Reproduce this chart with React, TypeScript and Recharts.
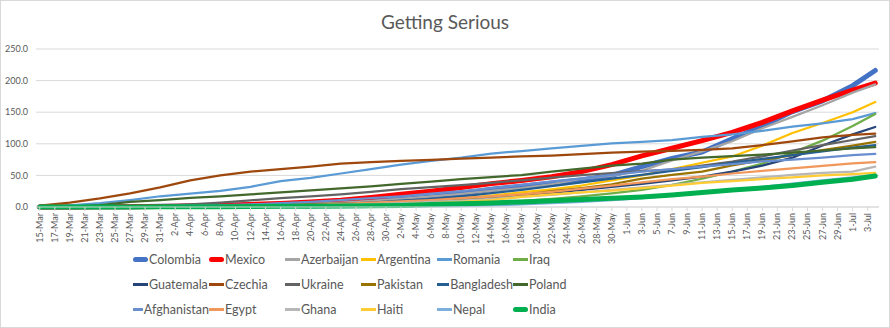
import { LineChart, Line, XAxis, YAxis, CartesianGrid, Legend } from "recharts";

// day index (0 = 15-Mar) of each sampled point
const sampleDays = [0, 4, 8, 12, 16, 20, 24, 28, 32, 36, 40, 44, 48, 52, 56, 60, 64, 68, 72, 76, 80, 84, 88, 92, 96, 100, 104, 108, 111];

const colombia = [0, 0, 0.2, 0.5, 1, 1.5, 2.5, 3.5, 4.5, 5.5, 7, 9, 12, 16, 21, 28, 33, 38, 43, 50, 64, 77, 87, 108, 128, 151, 168, 192, 216];
const mexico = [0, 0, 0.2, 0.4, 0.8, 1.5, 2.5, 4, 5.6, 8, 10.7, 15, 20, 25, 31, 37, 42, 48, 56, 67, 81, 93, 105, 118, 134, 152, 169, 185, 196];
const azerbaijan = [0, 0, 0, 0.2, 0.5, 1, 1.5, 2.5, 3.5, 5, 7, 9.6, 12.8, 16.8, 20.8, 25.5, 30, 36, 44.7, 49.5, 57.5, 73.5, 88, 104, 124.6, 142.6, 161, 181, 194];
const argentina = [0, 0, 0.1, 0.3, 0.6, 1, 1.5, 2, 2.5, 3.5, 4.5, 6, 8, 11, 14, 18, 23, 28, 34, 42, 50, 60, 70, 80, 97, 117, 133, 150, 166];
const romania = [0, 2.5, 6, 11, 17, 21, 25.5, 32, 41, 46, 53, 60, 67, 73, 78, 84.6, 88.6, 92.6, 96.6, 100.6, 103, 106, 111, 115, 120.6, 127, 132.5, 139, 148.5];
const iraq = [0, 0, 0.2, 0.4, 0.6, 0.9, 1.2, 1.5, 1.8, 2.2, 2.5, 3, 3.5, 4.5, 5.5, 7, 9.6, 12.8, 16.8, 21.6, 27, 35, 44.7, 56, 68.7, 86, 105, 128, 147];
const guatemala = [0, 0, 0, 0.1, 0.3, 0.5, 0.7, 1, 1.5, 2.2, 3, 4, 5.6, 8, 10.4, 13.6, 17.6, 22.4, 27, 32, 36.7, 42.3, 48, 56, 65.5, 78, 97.4, 115, 126.6];
const czechia = [2, 7, 13.6, 21.6, 31, 42, 50, 56, 60, 64, 68.5, 71, 73, 74.5, 76.7, 78.3, 80, 81.4, 83.5, 86, 87.5, 89, 90.5, 92.6, 98, 104, 110, 114, 116];
const ukraine = [0, 0, 0.3, 0.7, 1.5, 4, 7, 10.5, 14, 16.8, 20, 24, 28.3, 31.5, 34.7, 38.3, 42.3, 46.3, 50.3, 53.8, 56.7, 59, 65.5, 72, 80, 89.4, 98, 106, 112];
const pakistan = [0, 0, 0.3, 0.6, 1, 1.5, 2, 2.8, 3.5, 4.5, 5.5, 6.5, 8, 10, 13, 16, 19, 25, 30, 36, 45, 51, 56, 66, 74, 82, 90, 97, 103];
const bangladesh = [0, 0, 0, 0.1, 0.3, 0.5, 1, 1.5, 2.5, 3.5, 5, 7, 10, 13, 17, 22, 27, 33, 39, 45, 51, 57, 63, 70, 76, 82, 88, 94, 98];
const poland = [0, 0.5, 3, 8, 11, 14.4, 16.8, 20, 23, 26.4, 29.5, 32.7, 36.7, 40, 44, 47.4, 50.6, 56, 60.7, 65.5, 68.7, 75, 78, 80.6, 83, 86, 89.4, 92.6, 94.7];
const afghanistan = [0, 0, 0.2, 0.5, 1, 2, 3, 4, 6, 8, 11, 14, 17, 21, 25, 30, 35, 40, 45, 51, 56, 60, 64, 68, 72, 75, 78, 82, 84];
const egypt = [0, 0, 0, 0.1, 0.3, 0.6, 1, 1.5, 2.5, 3.5, 5, 7, 9, 11, 14, 17, 20, 24, 29, 34, 39, 44, 48, 53, 57, 61, 65, 69, 71];
const ghana = [0, 0, 0, 0, 0, 0.3, 0.6, 1, 1.5, 2.5, 3.5, 4.5, 6, 8, 10, 13, 16, 19, 23, 27, 31, 35, 39, 43, 47, 51, 54, 56, 64];
const haiti = [0, 0, 0, 0, 0, 0, 0.3, 0.6, 1, 1.5, 2, 3, 4, 6, 8, 11, 16, 20, 23, 26, 30, 34, 38, 41, 44, 47, 50, 52, 54];
const nepal = [0, 0, 0, 0, 0, 0, 0, 0, 0, 0, 0, 0.2, 0.5, 1, 1.5, 2.5, 4, 6, 8, 11, 14, 18, 22, 27, 32, 37, 42, 47, 51];
const india = [0, 0, 0, 0.1, 0.2, 0.3, 0.5, 0.7, 1, 1.2, 1.6, 2, 2.5, 4, 5, 6.5, 8, 10, 12, 14, 16, 19, 23, 27, 30, 34, 39, 44, 49];

const yTicks = [0, 50, 100, 150, 200, 250];

const monthNames = ["Jan", "Feb", "Mar", "Apr", "May", "Jun", "Jul"];
// one category per day, 15-Mar .. 4-Jul
const dayLabels: string[] = [];
for (let i = 0; i < 112; i++) {
  const d = new Date(2020, 2, 15 + i);
  dayLabels.push(`${d.getDate()}-${monthNames[d.getMonth()]}`);
}
const xTicks = dayLabels.map((_, i) => i).filter((i) => i % 2 === 0);

const series = [
  { name: "Colombia", values: colombia, color: "#4472C4", width: 5 },
  { name: "Mexico", values: mexico, color: "#FF0000", width: 5 },
  { name: "Azerbaijan", values: azerbaijan, color: "#A5A5A5", width: 2.25 },
  { name: "Argentina", values: argentina, color: "#FFC000", width: 2.25 },
  { name: "Romania", values: romania, color: "#5B9BD5", width: 2.25 },
  { name: "Iraq", values: iraq, color: "#70AD47", width: 2.25 },
  { name: "Guatemala", values: guatemala, color: "#264478", width: 2.25 },
  { name: "Czechia", values: czechia, color: "#9E480E", width: 2.25 },
  { name: "Ukraine", values: ukraine, color: "#636363", width: 2.25 },
  { name: "Pakistan", values: pakistan, color: "#997300", width: 2.25 },
  { name: "Bangladesh", values: bangladesh, color: "#255E91", width: 2.25 },
  { name: "Poland", values: poland, color: "#43682B", width: 2.25 },
  { name: "Afghanistan", values: afghanistan, color: "#698ED0", width: 2.25 },
  { name: "Egypt", values: egypt, color: "#F1975A", width: 2.25 },
  { name: "Ghana", values: ghana, color: "#B7B7B7", width: 2.25 },
  { name: "Haiti", values: haiti, color: "#FFCD33", width: 2.25 },
  { name: "Nepal", values: nepal, color: "#7CAFDD", width: 2.25 },
  { name: "India", values: india, color: "#00B050", width: 5 },
];

const data = sampleDays.map((day, i) => {
  const row: Record<string, number> = { day };
  series.forEach((s) => {
    row[s.name] = s.values[i];
  });
  return row;
});

const FONT = "Lato, 'Open Sans', sans-serif";
const TEXT = "#595959";

const DateTick = (props: any) => {
  const { x, y, payload } = props;
  return (
    <text
      x={x}
      y={y}
      dy={3}
      transform={`rotate(-90, ${x}, ${y})`}
      textAnchor="end"
      fontSize={9}
      fontFamily={FONT}
      fill={TEXT}
    >
      {dayLabels[payload.value]}
    </text>
  );
};

const renderLegend = () => (
  <div
    style={{
      display: "grid",
      gridTemplateColumns: "repeat(6, 76px)",
      gridAutoRows: "25px",
      paddingLeft: 132,
      fontFamily: FONT,
      fontSize: 12.5,
      color: TEXT,
    }}
  >
    {series.map((s) => (
      <div key={s.name} style={{ display: "flex", alignItems: "center", whiteSpace: "nowrap" }}>
        <span
          style={{
            display: "inline-block",
            width: 15,
            height: s.width > 3 ? 5 : 2.5,
            borderRadius: s.width > 3 ? 3 : 0,
            background: s.color,
            marginRight: 1,
          }}
        />
        {s.name}
      </div>
    ))}
  </div>
);

export default function App() {
  return (
    <div
      style={{
        position: "absolute",
        left: 0,
        top: 0,
        width: 888,
        height: 326,
        border: "1px solid #D9D9D9",
        background: "#fff",
      }}
    >
      <div
        style={{
          position: "absolute",
          top: 9,
          left: 0,
          width: 888,
          textAlign: "center",
          fontFamily: FONT,
          fontSize: 19,
          color: TEXT,
        }}
      >
        Getting Serious
      </div>
      <LineChart width={888} height={326} data={data} margin={{ top: 48, right: 10, left: 0, bottom: 80 }}>
        <CartesianGrid vertical={false} stroke="#D9D9D9" />
        <XAxis
          dataKey="day"
          type="number"
          domain={[-0.5, 111.5]}
          ticks={xTicks}
          interval={0}
          tick={<DateTick />}
          height={40}
          axisLine={{ stroke: "#D9D9D9" }}
          tickLine={{ stroke: "#D9D9D9" }}
          tickSize={4}
        />
        <YAxis
          domain={[0, 250]}
          ticks={yTicks}
          width={35}
          axisLine={false}
          tickLine={false}
          tickFormatter={(v: number) => v.toFixed(1)}
          tick={{ fontSize: 9, fill: TEXT, fontFamily: FONT }}
        />
        <Legend
          content={renderLegend}
          layout="horizontal"
          verticalAlign="middle"
          align="center"
          wrapperStyle={{ top: 246, left: 0, width: 888 }}
        />
        {series.map((s) => (
          <Line
            key={s.name}
            dataKey={s.name}
            type="linear"
            stroke={s.color}
            strokeWidth={s.width}
            dot={false}
            strokeLinecap="round"
            strokeLinejoin="round"
            isAnimationActive={false}
          />
        ))}
      </LineChart>
    </div>
  );
}
